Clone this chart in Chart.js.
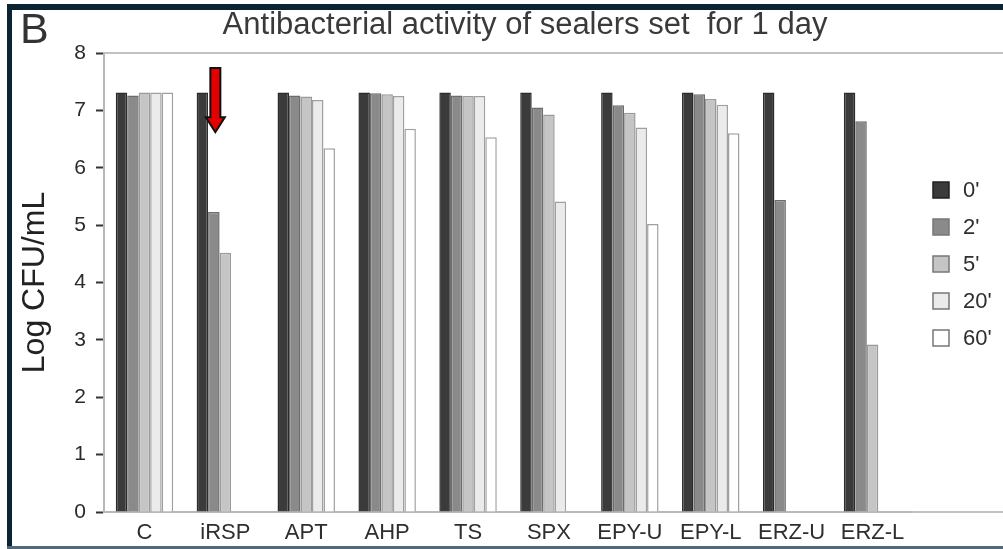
<!DOCTYPE html>
<html>
<head>
<meta charset="utf-8">
<title>Antibacterial activity of sealers set for 1 day</title>
<script src="https://cdn.jsdelivr.net/npm/chart.js@4"></script>
<style>
    body { margin: 0; background: #fff; }
    #wrap { position: relative; width: 1003px; height: 549px; overflow: hidden; }
    #frameTop { position: absolute; left: 7px; top: 4px; width: 996px; height: 6px; background: #0c2333; }
    #frameLeft { position: absolute; left: 7px; top: 4px; width: 5px; height: 545px; background: #0c2333; }
    #frameBottom { position: absolute; left: 7px; top: 546px; width: 996px; height: 3px; background: #53687a; }
</style>
</head>
<body>
<div id="wrap">
    <canvas id="sealerChart" width="1003" height="549"></canvas>
    <div id="frameTop"></div>
    <div id="frameLeft"></div>
    <div id="frameBottom"></div>
</div>
<script>
const sealers = ['C', 'iRSP', 'APT', 'AHP', 'TS', 'SPX', 'EPY-U', 'EPY-L', 'ERZ-U', 'ERZ-L'];
const times = ["0'", "2'", "5'", "20'", "60'"];

// Log CFU/mL after each contact time
const t0 = [7.31, 7.31, 7.31, 7.31, 7.31, 7.31, 7.31, 7.31, 7.31, 7.31];
const t2 = [7.26, 5.23, 7.26, 7.30, 7.26, 7.05, 7.09, 7.28, 5.44, 6.81];
const t5 = [7.31, 4.52, 7.24, 7.28, 7.25, 6.93, 6.96, 7.20, 0, 2.92];
const t20 = [7.31, 0, 7.18, 7.25, 7.25, 5.41, 6.70, 7.10, 0, 0];
const t60 = [7.31, 0, 6.34, 6.68, 6.53, 0, 5.02, 6.60, 0, 0];

const yTicks = [0, 1, 2, 3, 4, 5, 6, 7, 8];

const fills = ['#3b3b3b', '#8a8a8a', '#c5c5c5', '#ebebeb', '#ffffff'];
const edges = ['#2b2b2b', '#6c6c6c', '#9a9a9a', '#a0a0a0', '#a0a0a0'];
const FONT = "'Liberation Sans', Arial, sans-serif";

const series = [t0, t2, t5, t20, t60];

// title, panel letter, extended frame lines, legend and the arrow
const decorPlugin = {
    id: 'decor',
    afterDraw(chart) {
        const ctx = chart.ctx;
        const area = chart.chartArea;
        const y = chart.scales.y;
        const x = chart.scales.x;
        ctx.save();

        ctx.fillStyle = '#333';
        ctx.font = '43px ' + FONT;
        ctx.textAlign = 'left';
        ctx.textBaseline = 'alphabetic';
        ctx.fillText('B', 20, 43);

        ctx.fillStyle = '#3a3a3a';
        ctx.font = '31px ' + FONT;
        ctx.textAlign = 'center';
        ctx.fillText('Antibacterial activity of sealers set  for 1 day', 525, 34);

        // top line at 8 and baseline run to the right edge
        ctx.strokeStyle = '#c2c2c2';
        ctx.lineWidth = 2;
        ctx.beginPath();
        ctx.moveTo(area.left, y.getPixelForValue(8));
        ctx.lineTo(1003, y.getPixelForValue(8));
        ctx.moveTo(area.right, y.getPixelForValue(0));
        ctx.lineTo(1003, y.getPixelForValue(0));
        ctx.stroke();

        // legend
        ctx.font = '22px ' + FONT;
        ctx.textAlign = 'left';
        ctx.textBaseline = 'middle';
        times.forEach((t, i) => {
            const cy = 190 + i * 37;
            const bx = area.right + 20;
            ctx.fillStyle = fills[i];
            ctx.fillRect(bx, cy - 8, 16, 16);
            ctx.strokeStyle = i === 0 ? '#222' : '#777';
            ctx.lineWidth = 1.5;
            ctx.strokeRect(bx, cy - 8, 16, 16);
            ctx.fillStyle = '#2e2e2e';
            ctx.fillText(t, bx + 30, cy + 1);
        });

        // red arrow over iRSP
        const ax = x.getPixelForValue(1) - 10;
        const top = y.getPixelForValue(7.74);
        const neck = y.getPixelForValue(6.88);
        const tip = y.getPixelForValue(6.62);
        ctx.beginPath();
        ctx.moveTo(ax - 5, top);
        ctx.lineTo(ax + 5, top);
        ctx.lineTo(ax + 5, neck);
        ctx.lineTo(ax + 9.5, neck);
        ctx.lineTo(ax, tip);
        ctx.lineTo(ax - 9.5, neck);
        ctx.lineTo(ax - 5, neck);
        ctx.closePath();
        ctx.fillStyle = '#e30000';
        ctx.fill();
        ctx.strokeStyle = '#111';
        ctx.lineWidth = 2;
        ctx.stroke();

        ctx.restore();
    }
};

const ctx = document.getElementById('sealerChart').getContext('2d');
const chart = new Chart(ctx, {
    type: 'bar',
    data: {
        labels: sealers,
        datasets: series.map((values, i) => ({
            label: times[i],
            data: values,
            backgroundColor: fills[i],
            borderColor: edges[i],
            borderWidth: 1.5,
            barPercentage: 1,
            categoryPercentage: 0.71,
        }))
    },
    options: {
        responsive: false,
        animation: false,
        layout: {
            padding: { left: 12, right: 90, top: 53, bottom: 0 }
        },
        plugins: {
            legend: { display: false },
            tooltip: { enabled: false },
        },
        scales: {
            x: {
                grid: { display: false },
                border: { color: '#b8b8b8', width: 2 },
                ticks: {
                    color: '#2e2e2e',
                    font: { family: FONT, size: 22 },
                    padding: 0,
                    maxRotation: 0,
                },
                afterFit: (scale) => { scale.height = 37; },
            },
            y: {
                min: 0,
                max: 8,
                afterBuildTicks: (scale) => { scale.ticks = yTicks.map(v => ({ value: v })); },
                grid: {
                    drawOnChartArea: false,
                    tickColor: '#333',
                    tickLength: 8,
                    tickWidth: 2,
                },
                border: { color: '#b8b8b8', width: 2 },
                ticks: {
                    color: '#2a2a2a',
                    font: { family: FONT, size: 21 },
                    padding: 10,
                },
                title: {
                    display: true,
                    text: 'Log CFU/mL',
                    color: '#222',
                    font: { family: FONT, size: 32 },
                    padding: { top: 4, bottom: 0 },
                },
                afterFit: (scale) => { scale.width = 92; },
            }
        }
    },
    plugins: [decorPlugin]
});
</script>
</body>
</html>
